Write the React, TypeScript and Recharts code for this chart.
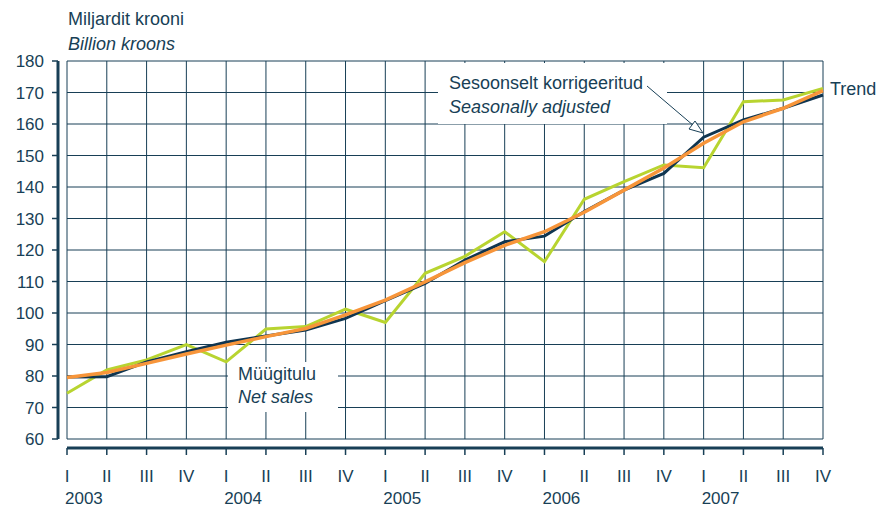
import { CartesianGrid, Line, LineChart, XAxis, YAxis } from "recharts";

const quarters = ["I", "II", "III", "IV", "I", "II", "III", "IV", "I", "II", "III", "IV", "I", "II", "III", "IV", "I", "II", "III", "IV"];
const years = ["2003", "", "", "", "2004", "", "", "", "2005", "", "", "", "2006", "", "", "", "2007", "", "", ""];
const netSales = [74.5, 81.9, 85.1, 90, 84.5, 94.9, 95.7, 101.2, 97, 112.6, 118, 125.8, 116.3, 136.1, 141.7, 147, 146.1, 167.1, 167.6, 171.3];
const seasonal = [79.7, 79.8, 84.5, 87.7, 90.7, 92.7, 94.6, 98.3, 103.9, 109.4, 116.8, 122.6, 124.4, 132.2, 139, 144.3, 155.8, 161.3, 165, 169.2];
const trend = [79.5, 81.1, 84, 87, 89.8, 92.5, 95.1, 99.4, 104.1, 109.9, 116, 121.5, 125.8, 132, 139, 146, 153.9, 160.7, 165, 170.6];
const yTicks = [60, 70, 80, 90, 100, 110, 120, 130, 140, 150, 160, 170, 180];

const data = quarters.map((q, i) => ({
	idx: i,
	q,
	year: years[i],
	netSales: netSales[i],
	seasonal: seasonal[i],
	trend: trend[i],
}));

const INK = "#183f56";
const FONT = "'Liberation Sans', Arial, sans-serif";

function QuarterTick(props: any) {
	const { x, y, payload } = props;
	const row = data[payload.value];
	return (
		<g>
			<text x={x} y={y + 25} textAnchor="middle" fill={INK} fontSize={17} fontFamily={FONT}>
				{row.q}
			</text>
			{row.year && (
				<text x={x - 2} y={y + 47} textAnchor="start" fill={INK} fontSize={17} fontFamily={FONT}>
					{row.year}
				</text>
			)}
		</g>
	);
}

export default function App() {
	return (
		<div style={{ position: "absolute", left: 0, top: 0, width: 877, height: 507, background: "#fff", fontFamily: FONT, color: INK, overflow: "hidden" }}>
			<LineChart width={877} height={507} data={data} margin={{ top: 61, right: 54, bottom: 0, left: 0 }}>
				<CartesianGrid stroke={INK} strokeWidth={1} xAxisId="lbl" yAxisId="main" />
				<XAxis dataKey="idx" height={9} tick={false} axisLine={false} tickLine={false} />
				<XAxis
					xAxisId="lbl"
					dataKey="idx"
					height={59}
					axisLine={{ stroke: INK, strokeWidth: 3 }}
					tickLine={{ stroke: INK, strokeWidth: 1.5 }}
					tickSize={7}
					tick={<QuarterTick />}
					interval={0}
				/>
				<YAxis
					yAxisId="main"
					width={58}
					domain={[60, 180]}
					ticks={yTicks}
					interval={0}
					axisLine={{ stroke: INK, strokeWidth: 3 }}
					tickLine={{ stroke: INK, strokeWidth: 1.5 }}
					tickSize={6}
					tickMargin={8}
					tick={{ fill: INK, fontSize: 17, fontFamily: FONT }}
				/>
				<YAxis yAxisId="gap" width={9} domain={[60, 180]} tick={false} axisLine={false} tickLine={false} />
				<Line yAxisId="main" dataKey="netSales" stroke="#b8d430" strokeWidth={3} dot={false} isAnimationActive={false} />
				<Line yAxisId="main" dataKey="seasonal" stroke="#0f3550" strokeWidth={3} dot={false} isAnimationActive={false} />
				<Line yAxisId="main" dataKey="trend" stroke="#f7953a" strokeWidth={3.5} dot={false} isAnimationActive={false} />
			</LineChart>

			<div style={{ position: "absolute", left: 68, top: 7, fontSize: 18, lineHeight: "25px" }}>
				<div>Miljardit krooni</div>
				<div style={{ fontStyle: "italic" }}>Billion kroons</div>
			</div>

			<div style={{ position: "absolute", left: 438, top: 63, width: 229, height: 61, background: "#fff" }} />
			<div style={{ position: "absolute", left: 449, top: 71, fontSize: 18, lineHeight: "24px", whiteSpace: "nowrap" }}>
				<div>Sesoonselt korrigeeritud</div>
				<div style={{ fontStyle: "italic" }}>Seasonally adjusted</div>
			</div>

			<div style={{ position: "absolute", left: 228, top: 362, width: 110, height: 50, background: "#fff" }} />
			<div style={{ position: "absolute", left: 238, top: 363, fontSize: 18, lineHeight: "23px", whiteSpace: "nowrap" }}>
				<div>Müügitulu</div>
				<div style={{ fontStyle: "italic" }}>Net sales</div>
			</div>

			<div style={{ position: "absolute", left: 830, top: 79, fontSize: 18, lineHeight: "20px" }}>Trend</div>

			<svg width={877} height={507} style={{ position: "absolute", left: 0, top: 0, pointerEvents: "none" }}>
				<line x1={647} y1={86} x2={694} y2={126} stroke={INK} strokeWidth={1} />
				<polygon points="703,133 689,129 695,121" fill="#fff" stroke={INK} strokeWidth={1} />
			</svg>
		</div>
	);
}
